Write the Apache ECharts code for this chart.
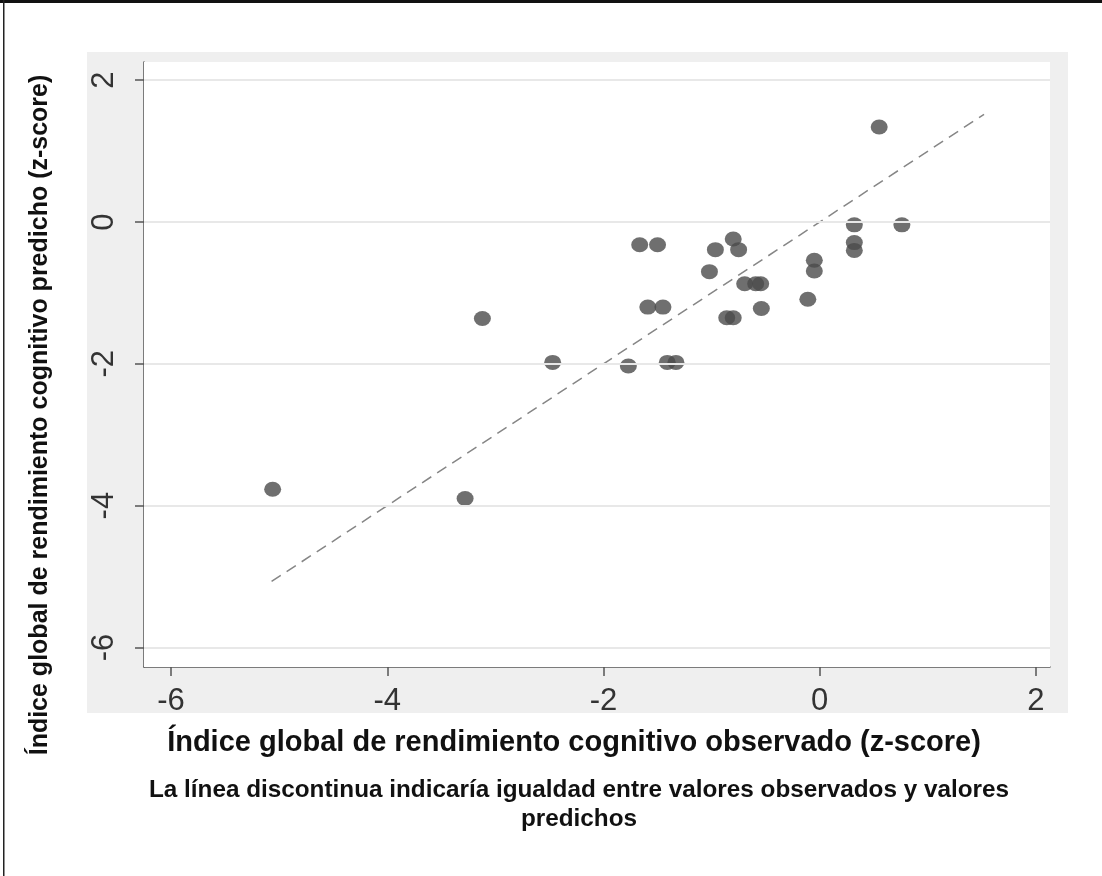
<!DOCTYPE html>
<html>
<head>
<meta charset="utf-8">
<title>Índice global de rendimiento cognitivo</title>
<script src="https://cdn.jsdelivr.net/npm/echarts@6/dist/echarts.min.js"></script>
<style>
  html, body { margin: 0; padding: 0; background: #fff; }
  #chart { width: 1102px; height: 876px; }
</style>
</head>
<body>
<div id="chart"></div>
<script>
// Tick positions on both axes
const xTicks = [-6, -4, -2, 0, 2];
const yTicks = [-6, -4, -2, 0, 2];

// Observed vs predicted global cognitive performance index (z-scores)
const observed = [
  -5.06, -3.28, -3.12, -2.47, -1.77, -1.41, -1.33, -1.665, -1.50, -1.59,
  -1.45, -1.02, -0.965, -0.80, -0.75, -0.694, -0.592, -0.546, -0.86, -0.80,
  -0.54, -0.11, -0.05, -0.05, 0.32, 0.32, 0.32, 0.76, 0.55
];
const predicted = [
  -3.77, -3.90, -1.36, -1.98, -2.03, -1.98, -1.98, -0.32, -0.32, -1.20,
  -1.20, -0.70, -0.39, -0.24, -0.39, -0.87, -0.87, -0.87, -1.35, -1.35,
  -1.22, -1.09, -0.54, -0.69, -0.04, -0.29, -0.40, -0.04, 1.34
];

// Equality line (observed = predicted) endpoints
const equalityEnds = [-5.07, 1.52];

const xTitle = 'Índice global de rendimiento cognitivo observado (z-score)';
const yTitle = 'Índice global de rendimiento cognitivo predicho (z-score)';
const captionLines = [
  'La línea discontinua indicaría igualdad entre valores observados y valores',
  'predichos'
];

const points = observed.map((x, i) => [x, predicted[i]]);
const equalityLine = equalityEnds.map(v => [v, v]);

const FONT = '"Liberation Sans", Arial, sans-serif';
const AXIS_COLOR = '#555555';

const chart = echarts.init(document.getElementById('chart'), null, { renderer: 'canvas' });

chart.setOption({
  backgroundColor: '#ffffff',
  animation: false,
  grid: {
    left: 144, right: 52, top: 62, bottom: 209,
    show: true, backgroundColor: '#ffffff', borderWidth: 0, z: 1
  },
  xAxis: {
    type: 'value',
    min: -6.25, max: 2.13,
    axisLine: { show: true, onZero: false, lineStyle: { color: AXIS_COLOR, width: 1.5 } },
    axisTick: { show: true, length: 9, customValues: xTicks, lineStyle: { color: AXIS_COLOR, width: 1.5 } },
    axisLabel: {
      customValues: xTicks, margin: 19,
      color: '#333', fontFamily: FONT, fontSize: 31
    },
    splitLine: { show: false }
  },
  yAxis: {
    type: 'value',
    min: -6.276, max: 2.257,
    axisLine: { show: true, onZero: false, lineStyle: { color: AXIS_COLOR, width: 1.5 } },
    axisTick: { show: true, length: 9, customValues: yTicks, lineStyle: { color: AXIS_COLOR, width: 1.5 } },
    axisLabel: {
      customValues: yTicks, rotate: 90, margin: 24,
      color: '#333', fontFamily: FONT, fontSize: 31
    },
    splitLine: { show: false }
  },
  series: [
    {
      // horizontal reference lines at the y ticks
      type: 'line',
      data: [],
      silent: true,
      markLine: {
        silent: true,
        symbol: 'none',
        label: { show: false },
        lineStyle: { type: 'solid', color: '#e8e8e8', width: 2 },
        data: yTicks.map(v => ({ yAxis: v }))
      }
    },
    {
      type: 'line',
      data: equalityLine,
      symbol: 'none',
      silent: true,
      lineStyle: { color: '#868686', width: 1.5, type: [11, 7] }
    },
    {
      type: 'scatter',
      data: points,
      symbol: 'circle',
      symbolSize: [17, 15],
      itemStyle: { color: '#4b4b4b' }
    }
  ],
  graphic: [
    // grey plot region surrounding the white data area
    { type: 'rect', z: -10, shape: { x: 87, y: 52, width: 981, height: 661 }, style: { fill: '#efefef' } },
    // frame lines at top and left edge
    { type: 'rect', z: 10, shape: { x: 0, y: 0, width: 1102, height: 3 }, style: { fill: '#111' } },
    { type: 'rect', z: 10, shape: { x: 3, y: 0, width: 1.5, height: 876 }, style: { fill: '#222' } },
    {
      type: 'text', z: 10, x: 40, y: 415, rotation: Math.PI / 2,
      style: { text: yTitle, font: 'bold 25px ' + FONT, fill: '#111', align: 'center', verticalAlign: 'middle' }
    },
    {
      type: 'text', z: 10, x: 574, y: 743,
      style: { text: xTitle, font: 'bold 29px ' + FONT, fill: '#111', align: 'center', verticalAlign: 'middle' }
    },
    {
      type: 'text', z: 10, x: 579, y: 790,
      style: { text: captionLines[0], font: 'bold 24.3px ' + FONT, fill: '#111', align: 'center', verticalAlign: 'middle' }
    },
    {
      type: 'text', z: 10, x: 579, y: 819,
      style: { text: captionLines[1], font: 'bold 24.3px ' + FONT, fill: '#111', align: 'center', verticalAlign: 'middle' }
    }
  ]
});
</script>
</body>
</html>
